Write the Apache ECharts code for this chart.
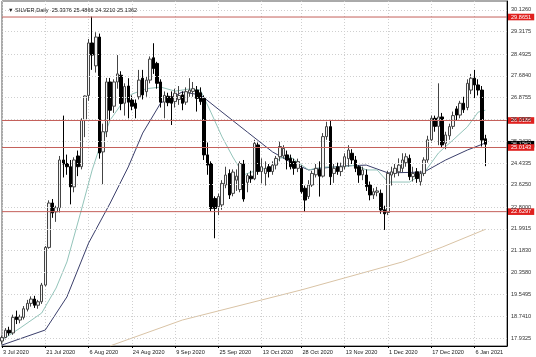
<!DOCTYPE html>
<html><head><meta charset="utf-8">
<script src="https://cdn.jsdelivr.net/npm/echarts@6/dist/echarts.min.js"></script>
<style>html,body{margin:0;padding:0;background:#fff}#c{width:536px;height:357px}</style>
</head><body><div id="c"></div><script>
const dates = [
'3 Jul 2020','6 Jul 2020','7 Jul 2020','8 Jul 2020','9 Jul 2020','10 Jul 2020','13 Jul 2020','14 Jul 2020','15 Jul 2020','16 Jul 2020','17 Jul 2020','20 Jul 2020','21 Jul 2020','22 Jul 2020','23 Jul 2020','24 Jul 2020','27 Jul 2020','28 Jul 2020','29 Jul 2020','30 Jul 2020','31 Jul 2020',
'3 Aug 2020','4 Aug 2020','5 Aug 2020','6 Aug 2020','7 Aug 2020','10 Aug 2020','11 Aug 2020','12 Aug 2020','13 Aug 2020','14 Aug 2020','17 Aug 2020','18 Aug 2020','19 Aug 2020','20 Aug 2020','21 Aug 2020','24 Aug 2020','25 Aug 2020','26 Aug 2020','27 Aug 2020','28 Aug 2020','31 Aug 2020',
'1 Sep 2020','2 Sep 2020','3 Sep 2020','4 Sep 2020','7 Sep 2020','8 Sep 2020','9 Sep 2020','10 Sep 2020','11 Sep 2020','14 Sep 2020','15 Sep 2020','16 Sep 2020','17 Sep 2020','18 Sep 2020','21 Sep 2020','22 Sep 2020','23 Sep 2020','24 Sep 2020','25 Sep 2020','28 Sep 2020','29 Sep 2020','30 Sep 2020',
'1 Oct 2020','2 Oct 2020','5 Oct 2020','6 Oct 2020','7 Oct 2020','8 Oct 2020','9 Oct 2020','12 Oct 2020','13 Oct 2020','14 Oct 2020','15 Oct 2020','16 Oct 2020','19 Oct 2020','20 Oct 2020','21 Oct 2020','22 Oct 2020','23 Oct 2020','26 Oct 2020','27 Oct 2020','28 Oct 2020','29 Oct 2020','30 Oct 2020',
'2 Nov 2020','3 Nov 2020','4 Nov 2020','5 Nov 2020','6 Nov 2020','9 Nov 2020','10 Nov 2020','11 Nov 2020','12 Nov 2020','13 Nov 2020','16 Nov 2020','17 Nov 2020','18 Nov 2020','19 Nov 2020','20 Nov 2020','23 Nov 2020','24 Nov 2020','25 Nov 2020','26 Nov 2020','27 Nov 2020','30 Nov 2020',
'1 Dec 2020','2 Dec 2020','3 Dec 2020','4 Dec 2020','7 Dec 2020','8 Dec 2020','9 Dec 2020','10 Dec 2020','11 Dec 2020','14 Dec 2020','15 Dec 2020','16 Dec 2020','17 Dec 2020','18 Dec 2020','21 Dec 2020','22 Dec 2020','23 Dec 2020','24 Dec 2020','28 Dec 2020','29 Dec 2020','30 Dec 2020','31 Dec 2020',
'4 Jan 2021','5 Jan 2021','6 Jan 2021','7 Jan 2021','8 Jan 2021','11 Jan 2021',
'12 Jan 2021','13 Jan 2021','14 Jan 2021','15 Jan 2021','18 Jan 2021','19 Jan 2021'];

const openP = [17.82,17.95,18.22,18.12,18.72,18.60,18.70,19.00,19.22,19.38,19.15,19.28,19.90,21.30,22.95,22.62,22.78,24.55,24.42,24.30,23.55,
24.70,24.30,26.02,26.95,28.90,28.05,29.12,24.85,25.60,27.45,26.55,27.45,27.70,26.66,27.30,26.78,26.66,26.90,27.59,27.09,27.52,
28.35,28.14,27.45,26.70,26.92,26.90,26.72,26.80,26.97,26.70,27.05,27.10,27.15,27.05,26.84,24.74,24.42,23.12,22.81,22.88,23.62,24.05,
23.31,23.80,23.45,24.40,23.72,23.95,23.85,25.11,24.12,24.05,24.30,24.12,24.36,24.67,24.70,24.74,24.61,24.49,24.24,24.24,23.50,23.19,
23.62,24.00,24.20,23.95,25.42,25.79,24.05,24.30,24.12,24.30,24.60,24.80,24.55,24.30,24.00,23.99,23.62,23.25,23.35,23.31,22.70,
22.60,23.99,24.05,24.11,24.24,24.45,24.61,23.93,24.11,23.74,24.05,24.55,25.30,26.10,25.80,26.15,25.17,25.45,25.80,26.45,26.22,26.66,
26.50,27.15,27.59,27.34,27.15,25.3376];
const highP = [18.02,18.30,18.35,18.80,18.95,18.80,19.12,19.35,19.48,19.50,19.35,19.98,21.35,23.05,23.10,22.85,24.70,26.20,24.75,24.55,24.65,
24.90,26.10,26.95,29.05,29.88,29.30,29.25,25.90,27.60,27.60,27.55,28.45,27.85,27.40,27.59,26.95,26.80,27.90,27.90,27.65,28.40,
28.89,28.20,27.55,27.10,27.05,27.10,27.20,27.30,27.10,27.25,27.59,27.45,27.30,27.25,26.95,25.20,24.50,23.20,23.30,23.80,24.30,24.20,
24.20,24.20,24.50,24.55,24.05,24.15,25.30,25.20,24.61,24.50,24.40,24.50,24.70,25.23,25.10,24.90,24.75,24.60,24.60,24.35,23.60,23.80,
24.15,24.40,24.50,25.55,25.97,26.04,24.40,24.45,24.45,24.80,25.10,24.95,24.70,24.35,24.30,24.20,23.75,23.50,23.55,23.45,22.85,
24.15,24.30,24.40,24.61,24.80,24.80,24.75,24.30,24.25,24.15,24.65,25.45,26.20,26.20,27.40,26.30,25.60,25.90,26.35,26.55,26.75,26.90,
27.55,27.75,27.90,27.55,27.30,25.4866];
const lowP = [17.70,17.88,18.02,18.05,18.45,18.48,18.62,18.92,19.10,19.05,19.02,19.20,19.85,21.25,22.40,22.25,22.60,23.90,24.00,22.90,23.35,
23.95,24.20,25.40,26.75,27.90,27.80,24.60,23.65,25.40,26.00,26.30,27.20,26.40,26.20,26.10,26.40,26.10,26.80,26.80,26.90,27.40,
27.75,27.20,26.50,26.10,26.55,25.85,26.50,26.60,26.40,26.60,26.90,26.90,26.35,26.60,24.55,24.00,22.65,21.64,22.50,22.70,23.50,23.10,
23.20,23.40,23.35,23.00,23.35,23.70,23.80,24.00,23.68,23.60,23.90,24.00,24.20,24.50,24.60,24.20,24.20,24.00,24.10,23.30,22.63,23.10,
23.55,23.90,23.19,23.90,25.30,23.62,23.70,24.00,23.95,24.20,24.30,24.40,24.10,23.70,23.80,23.40,23.05,23.10,23.20,22.55,21.95,
22.50,23.60,23.90,23.95,24.10,24.30,23.80,23.75,23.70,23.60,23.95,24.45,25.20,25.60,25.10,25.00,24.95,25.30,25.70,26.00,26.10,26.30,
26.40,27.00,26.85,26.95,25.05,24.3210];
const closeP = [17.95,18.22,18.12,18.70,18.62,18.72,19.02,19.22,19.38,19.15,19.28,19.90,21.30,22.95,22.58,22.78,24.55,24.40,24.30,23.55,24.55,
24.30,26.02,26.93,28.90,28.45,29.12,24.81,25.60,27.45,26.40,27.45,27.75,26.65,27.28,26.70,26.55,26.47,27.52,26.97,27.52,28.30,
27.95,27.40,26.70,26.95,26.68,26.66,27.03,26.95,26.66,27.09,27.15,27.20,26.84,26.72,24.74,24.36,22.75,22.75,23.19,23.68,23.99,23.25,
24.10,23.95,24.42,23.10,23.97,23.85,25.17,24.12,24.30,24.24,24.12,24.36,24.61,25.05,24.98,24.55,24.30,24.24,24.49,23.37,23.06,23.62,
24.05,24.24,23.95,25.42,25.79,23.93,24.24,24.12,24.30,24.67,24.92,24.55,24.24,23.99,24.18,23.56,23.25,23.37,23.40,22.69,22.55,
24.05,24.11,24.24,24.36,24.55,24.67,23.93,24.05,23.86,24.05,24.55,25.30,26.10,25.80,26.15,25.11,25.48,25.79,26.20,26.22,26.66,26.42,
27.40,27.59,27.34,27.15,25.29,25.1362];

// moving averages (date, value)
const maFast = [['3 Jul 2020',17.86],['10 Jul 2020',18.30],['20 Jul 2020',18.86],['24 Jul 2020',19.79],['29 Jul 2020',20.76],['4 Aug 2020',22.69],
['7 Aug 2020',24.18],['11 Aug 2020',25.00],['14 Aug 2020',26.04],['20 Aug 2020',26.80],['24 Aug 2020',27.00],['28 Aug 2020',27.20],['3 Sep 2020',27.26],
['9 Sep 2020',27.11],['15 Sep 2020',27.19],['18 Sep 2020',27.15],['23 Sep 2020',26.30],['28 Sep 2020',25.41],['1 Oct 2020',24.66],['6 Oct 2020',24.00],
['12 Oct 2020',24.18],['16 Oct 2020',24.29],['20 Oct 2020',24.62],['23 Oct 2020',24.66],['30 Oct 2020',24.18],['5 Nov 2020',24.29],['12 Nov 2020',24.29],
['18 Nov 2020',24.36],['23 Nov 2020',24.18],['26 Nov 2020',24.18],['1 Dec 2020',23.73],['9 Dec 2020',23.73],['15 Dec 2020',24.07],['21 Dec 2020',24.81],
['28 Dec 2020',25.29],['4 Jan 2021',25.78],['7 Jan 2021',26.33],['11 Jan 2021',26.40]];
const maSlow = [['3 Jul 2020',17.67],['21 Jul 2020',18.23],['29 Jul 2020',19.46],['6 Aug 2020',21.46],['14 Aug 2020',22.95],['21 Aug 2020',24.29],
['27 Aug 2020',25.55],['3 Sep 2020',26.67],['11 Sep 2020',27.08],['18 Sep 2020',26.97],['28 Sep 2020',26.33],['7 Oct 2020',25.59],['16 Oct 2020',24.85],
['23 Oct 2020',24.47],['30 Oct 2020',24.18],['5 Nov 2020',24.25],['13 Nov 2020',24.33],['23 Nov 2020',24.36],['1 Dec 2020',24.07],['15 Dec 2020',24.10],
['23 Dec 2020',24.55],['4 Jan 2021',24.92],['11 Jan 2021',25.18]];
const maLong = [['14 Aug 2020',17.64],['11 Sep 2020',18.60],['28 Oct 2020',19.72],['7 Dec 2020',20.76],['22 Dec 2020',21.31],['11 Jan 2021',21.97]];

const yTickLabels = ['30.1260','29.3175','28.4925','27.6840','26.8755','26.0505','25.2420','24.4335','23.6250','22.8000','21.9915','21.1830','20.3580','19.5495','18.7410','17.9325'];
const levelLines = ['29.8651','26.0186','25.0143','22.6297'];
const lastPrice = '25.1362';
const xTickLabels = ['3 Jul 2020','21 Jul 2020','6 Aug 2020','24 Aug 2020','9 Sep 2020','25 Sep 2020','13 Oct 2020','28 Oct 2020','13 Nov 2020','1 Dec 2020','17 Dec 2020','6 Jan 2021'];
const header = '\u25BC SILVER,Daily  25.3376 25.4866 24.3210 25.1362';

const FONT = 'Liberation Sans';
const candles = openP.map((o, i) => [o, closeP[i], lowP[i], highP[i]]);
const isTick = (idx, val) => xTickLabels.indexOf(val) >= 0;
const firstCat = dates[0], lastCat = dates[dates.length - 1];

const tickLines = yTickLabels.map(t => ({name: t, yAxis: parseFloat(t)}));
const boxLabel = (text, bg) => ({show: true, formatter: text, color: '#fff', backgroundColor: bg, padding: [0, 3, 0, 3],
  lineHeight: 6.6, fontSize: 5.6, fontFamily: FONT, distance: 1});

// the price-tag for the last close (drawn first, so the level tags sit on top of it)
const lastSeries = {
  type: 'line', name: 'last', data: [[firstCat, parseFloat(lastPrice)], [lastCat, parseFloat(lastPrice)]],
  symbol: 'none', silent: true, z: 3.5, clip: false,
  lineStyle: {width: 1, color: 'rgba(0,0,0,0)'},
  labelLayout: {hideOverlap: false},
  endLabel: boxLabel(lastPrice, '#000')
};
// each support / resistance level is its own flat line series across the full axis, labelled at its end
const levelSeries = levelLines.map(t => ({
  type: 'line', name: t, data: [[firstCat, parseFloat(t)], [lastCat, parseFloat(t)]],
  symbol: 'none', silent: true, z: 4, clip: false,
  lineStyle: {color: '#c4605a', width: 1, type: 'solid'},
  itemStyle: {color: '#c4605a'},
  labelLayout: {hideOverlap: false},
  endLabel: boxLabel(t, '#e0201e')
}));

const chart = echarts.init(document.getElementById('c'), null, {renderer: 'canvas'});
chart.setOption({
  animation: false,
  backgroundColor: '#fff',
  title: {text: header, left: 3, top: 2, textStyle: {fontSize: 5.6, fontWeight: 'normal', color: '#222', fontFamily: FONT}},
  grid: {left: 0, right: 29, top: 1, bottom: 11, show: true, borderColor: '#555', borderWidth: 1, backgroundColor: '#fff'},
  xAxis: {
    type: 'category', data: dates, boundaryGap: false,
    axisLine: {lineStyle: {color: '#000'}},
    axisTick: {show: true, interval: isTick, length: 2, lineStyle: {color: '#000'}},
    axisLabel: {interval: isTick, fontSize: 5.6, color: '#222', align: 'left', margin: 3, fontFamily: FONT, padding: [0, 0, 0, 1]},
    splitLine: {show: true, interval: isTick, lineStyle: {color: '#cfcfcf', type: [1, 2], width: 1}}
  },
  yAxis: {
    type: 'value', position: 'right', min: 17.6348, max: 30.4606,
    axisLine: {show: true, lineStyle: {color: '#000'}},
    axisTick: {show: false}, axisLabel: {show: false}, splitLine: {show: false}
  },
  series: [
    {type: 'line', name: 'grid', data: [], symbol: 'none', silent: true, z: 1,
     markLine: {silent: true, symbol: ['none', 'none'], animation: false,
       lineStyle: {color: '#cfcfcf', type: [1, 2], width: 1},
       label: {show: true, position: 'end', formatter: '{b}', color: '#333', fontSize: 5.6, fontFamily: FONT, distance: 4},
       data: tickLines}},
    {type: 'line', name: 'ma200', data: maLong, symbol: 'none', lineStyle: {color: '#d9c3a5', width: 1}, z: 2, silent: true},
    {type: 'line', name: 'ma30', data: maSlow, symbol: 'none', lineStyle: {color: '#3b3f6b', width: 1}, z: 2, silent: true},
    {type: 'line', name: 'ma10', data: maFast, symbol: 'none', lineStyle: {color: '#93c4ba', width: 1}, z: 2, silent: true},
    {
      type: 'candlestick', name: 'SILVER', data: candles, barWidth: 3, clip: false, z: 3,
      itemStyle: {color: '#f4f4f4', color0: '#000', borderColor: '#444', borderColor0: '#000', borderWidth: 1}
    },
    lastSeries,
    ...levelSeries
  ]
});
</script></body></html>
